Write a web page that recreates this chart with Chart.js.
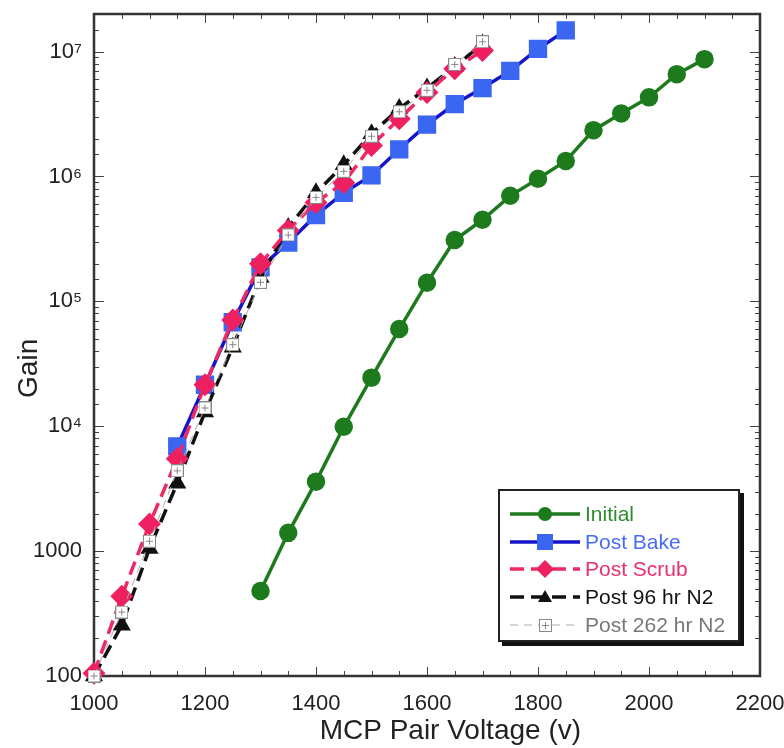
<!DOCTYPE html>
<html>
<head>
<meta charset="utf-8">
<script src="https://cdn.jsdelivr.net/npm/chart.js@4.4.1/dist/chart.umd.min.js"></script>
<style>
  html, body { margin: 0; padding: 0; background: #fff; }
  #wrap { position: relative; width: 784px; height: 748px; }
  #legend {
    position: absolute; left: 498px; top: 489px; width: 242px; height: 153px;
    border: 2px solid #222; background: #fff; box-shadow: 4px 4px 0 #111;
    font-family: 'Liberation Sans', Arial, sans-serif; font-size: 21px;
    padding-top: 9px; box-sizing: border-box;
  }
  #legend .row { display: flex; align-items: center; height: 27.7px; }
  #legend svg { margin-left: 10px; margin-right: 5px; }
</style>
</head>
<body>
<div id="wrap">
  <canvas id="gain" width="784" height="748"></canvas>
  <div id="legend"></div>
</div>
<script>
// voltages (V)
const vInitial = [1300, 1350, 1400, 1450, 1500, 1550, 1600, 1650, 1700, 1750, 1800, 1850, 1900, 1950, 2000, 2050, 2100];
const vBake    = [1150, 1200, 1250, 1300, 1350, 1400, 1450, 1500, 1550, 1600, 1650, 1700, 1750, 1800, 1850];
const vScrub   = [1000, 1050, 1100, 1150, 1200, 1250, 1300, 1350, 1400, 1450, 1500, 1550, 1600, 1650, 1700];
const vN96     = [1000, 1050, 1100, 1150, 1200, 1250, 1300, 1350, 1400, 1450, 1500, 1550, 1600, 1650, 1700];
const vN262    = [1000, 1050, 1100, 1150, 1200, 1250, 1300, 1350, 1400, 1450, 1500, 1550, 1600, 1650, 1700];

// gains
const gInitial = [480, 1400, 3600, 9900, 24500, 60000, 141000, 310000, 450000, 700000, 960000, 1330000, 2350000, 3200000, 4300000, 6600000, 8700000];
const gBake    = [6900, 21500, 68000, 187000, 295000, 490000, 740000, 1020000, 1650000, 2600000, 3800000, 5100000, 7000000, 10500000, 14800000];
const gScrub   = [105, 435, 1650, 5500, 21500, 71000, 200000, 370000, 620000, 890000, 1770000, 2900000, 4700000, 7300000, 10200000];
const gN96     = [100, 255, 1050, 3500, 13000, 43000, 155000, 390000, 740000, 1240000, 2200000, 3500000, 5100000, 7600000, 11500000];
const gN262    = [100, 325, 1200, 4400, 14000, 45000, 142000, 340000, 680000, 1100000, 2100000, 3300000, 4900000, 7900000, 12000000];

const seriesNames = ['Initial', 'Post Bake', 'Post Scrub', 'Post 96 hr N2', 'Post 262 hr N2'];
const xTickLabels = [1000, 1200, 1400, 1600, 1800, 2000, 2200];

const pairs = (xs, ys) => xs.map((x, i) => ({ x: x, y: ys[i] }));
const sup = { 4: '10\u2074', 5: '10\u2075', 6: '10\u2076', 7: '10\u2077' };

// boxed square with a small grid, used as marker for the 262 hr series
function gridSquare(size) {
  const c = document.createElement('canvas');
  c.width = size; c.height = size;
  const g = c.getContext('2d');
  g.fillStyle = '#fff';
  g.fillRect(0.5, 0.5, size - 1, size - 1);
  g.strokeStyle = '#888';
  g.lineWidth = 1;
  g.strokeRect(0.5, 0.5, size - 1, size - 1);
  const m = Math.floor(size / 2) + 0.5;
  g.beginPath();
  g.moveTo(m, 3); g.lineTo(m, size - 3);
  g.moveTo(3, m); g.lineTo(size - 3, m);
  g.stroke();
  return c;
}
const gridMark = gridSquare(13);

// frame round the plot with inward ticks on all four sides
const frameTicks = {
  id: 'frameTicks',
  beforeDatasetsDraw(chart) {
    const { ctx, chartArea: a, scales: { x, y } } = chart;
    ctx.save();
    ctx.strokeStyle = '#444';
    ctx.lineWidth = 1;
    ctx.beginPath();
    x.ticks.forEach(t => {
      const px = Math.round(x.getPixelForValue(t.value)) + 0.5;
      const len = t.value % 200 === 0 ? 9 : 5;
      ctx.moveTo(px, a.bottom); ctx.lineTo(px, a.bottom - len);
      ctx.moveTo(px, a.top); ctx.lineTo(px, a.top + len);
    });
    y.ticks.forEach(t => {
      const py = Math.round(y.getPixelForValue(t.value)) + 0.5;
      const l = Math.log10(t.value);
      const len = Math.abs(l - Math.round(l)) < 1e-9 ? 10 : 5;
      ctx.moveTo(a.left, py); ctx.lineTo(a.left + len, py);
      ctx.moveTo(a.right, py); ctx.lineTo(a.right - len, py);
    });
    ctx.stroke();
    ctx.strokeStyle = '#333';
    ctx.lineWidth = 2.5;
    ctx.strokeRect(a.left, a.top, a.right - a.left, a.bottom - a.top);
    ctx.restore();
  }
};

const styles = [
  { line: '#1d7a1d', fill: '#1d7a1d', point: 'circle', r: 7.5, width: 3.5, dash: [], text: '#2e8b2e' },
  { line: '#1414c8', fill: '#3a66f2', point: 'rect', r: 10.5, width: 3.5, dash: [], text: '#4a6cf0' },
  { line: '#ee2a64', fill: '#ee2060', point: 'rectRot', r: 9, width: 3.5, dash: [14, 7], text: '#e8306a' },
  { line: '#111', fill: '#111', point: 'triangle', r: 7, width: 3.5, dash: [14, 7], text: '#111' },
  { line: '#aaa', fill: '#fff', point: gridMark, r: 7, width: 1, dash: [8, 6], text: '#777' }
];
const xs = [vInitial, vBake, vScrub, vN96, vN262];
const ys = [gInitial, gBake, gScrub, gN96, gN262];
const orders = [5, 4, 2, 3, 1];

const datasets = seriesNames.map((name, i) => ({
  label: name,
  data: pairs(xs[i], ys[i]),
  borderColor: styles[i].line,
  backgroundColor: styles[i].fill,
  pointBackgroundColor: styles[i].fill,
  pointBorderColor: styles[i].fill,
  pointStyle: styles[i].point,
  pointRadius: styles[i].r,
  pointHoverRadius: styles[i].r,
  borderWidth: styles[i].width,
  borderDash: styles[i].dash,
  tension: 0,
  clip: false,
  order: orders[i]
}));

const tickFont = { family: "'Liberation Sans', Arial, sans-serif", size: 22 };
const titleFont = { family: "'Liberation Sans', Arial, sans-serif", size: 28 };

new Chart(document.getElementById('gain'), {
  type: 'line',
  data: { datasets: datasets },
  plugins: [frameTicks],
  options: {
    responsive: false,
    animation: false,
    layout: { padding: { top: 6, right: 24, left: 0, bottom: 0 } },
    plugins: { legend: { display: false }, tooltip: { enabled: false } },
    scales: {
      x: {
        type: 'linear',
        min: 1000, max: 2200,
        grid: { display: false },
        border: { display: false },
        ticks: {
          stepSize: 50, autoSkip: false, maxRotation: 0, padding: 7,
          color: '#222', font: tickFont,
          callback: v => xTickLabels.includes(v) ? String(v) : ''
        },
        // leading spaces push the title right, as in the source figure
        title: { display: true, text: '      MCP Pair Voltage (v)', color: '#222', font: titleFont, padding: { top: 0, bottom: 0 } },
        afterFit: s => { s.height = 72; s.paddingLeft = 0; s.paddingRight = 0; }
      },
      y: {
        type: 'logarithmic',
        min: 100, max: 2e7,
        grid: { display: false },
        border: { display: false },
        ticks: {
          autoSkip: false, padding: 4, color: '#222', font: tickFont,
          callback: v => {
            const l = Math.log10(v);
            if (Math.abs(l - Math.round(l)) > 1e-9) return '';
            const k = Math.round(l);
            return k >= 4 ? sup[k] : String(v);
          }
        },
        title: { display: true, text: 'Gain      ', color: '#222', font: titleFont, padding: { top: 12, bottom: 0 } },
        afterFit: s => { s.width = 94; s.paddingTop = 0; s.paddingBottom = 0; }
      }
    }
  }
});

// legend: sample line + marker, then the series name
const legend = document.getElementById('legend');
const svgMarks = [
  '<circle cx="35" cy="10" r="7" fill="#1d7a1d"/>',
  '<rect x="27" y="2" width="16" height="16" fill="#3a66f2"/>',
  '<polygon points="35,1 44,10 35,19 26,10" fill="#ee2060"/>',
  '<polygon points="35,3 42,15 28,15" fill="#111"/>',
  '<rect x="29.5" y="4.5" width="12" height="12" fill="#fff" stroke="#888"/><path d="M35.5 7v7M32 10.5h7" stroke="#888"/>'
];
seriesNames.forEach((name, i) => {
  const s = styles[i];
  const dash = s.dash.length ? `stroke-dasharray="${s.dash.join(' ')}"` : '';
  const row = document.createElement('div');
  row.className = 'row';
  row.innerHTML =
    `<svg width="70" height="20"><line x1="0" y1="10" x2="70" y2="10" stroke="${s.line}" stroke-width="${s.width}" ${dash}/>${svgMarks[i]}</svg>` +
    `<span style="color:${s.text}">${name}</span>`;
  legend.appendChild(row);
});
</script>
</body>
</html>
